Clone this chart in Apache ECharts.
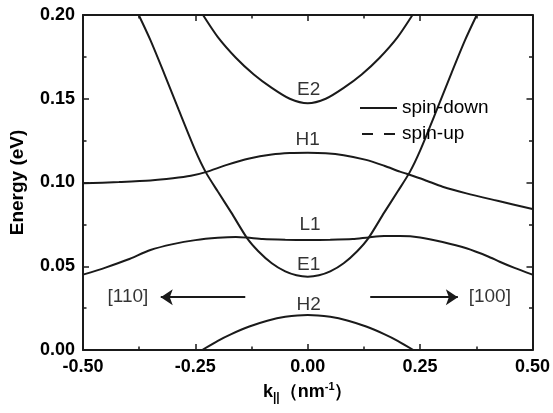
<!DOCTYPE html>
<html>
<head>
<meta charset="utf-8">
<script src="https://cdn.jsdelivr.net/npm/echarts@6/dist/echarts.min.js"></script>
<style>
  html, body { margin: 0; padding: 0; background: #fff; }
  #chart { width: 553px; height: 413px; }
</style>
</head>
<body>
<div id="chart"></div>
<script>
// Subband dispersion E(k||) along [110] (k < 0) and [100] (k > 0)

const xTickLabels = ['-0.50', '-0.25', '0.00', '0.25', '0.50'];
const yTickLabels = ['0.00', '0.05', '0.10', '0.15', '0.20'];

// E2 subband
const kE2 = [-0.233, -0.200, -0.160, -0.120, -0.080, -0.040, 0.000, 0.040, 0.080, 0.120, 0.160, 0.200, 0.233];
const eE2 = [0.2000, 0.1868, 0.1745, 0.1645, 0.1565, 0.1500, 0.1473, 0.1500, 0.1565, 0.1645, 0.1745, 0.1868, 0.2000];

// E1 subband
const kE1 = [-0.376, -0.350, -0.320, -0.287, -0.250, -0.227, -0.200, -0.170, -0.135, -0.110, -0.080, -0.050, -0.025, 0.000,
             0.025, 0.050, 0.080, 0.110, 0.135, 0.170, 0.200, 0.227, 0.250, 0.287, 0.320, 0.350, 0.376];
const eE1 = [0.2000, 0.1850, 0.1655, 0.1433, 0.1190, 0.1062, 0.0946, 0.0820, 0.0668, 0.0590, 0.0518, 0.0469, 0.0446, 0.0438,
             0.0446, 0.0469, 0.0518, 0.0590, 0.0668, 0.0820, 0.0946, 0.1062, 0.1190, 0.1433, 0.1655, 0.1850, 0.2000];

// H1 subband
const kH1 = [-0.50, -0.42, -0.35, -0.30, -0.26, -0.227, -0.18, -0.13, -0.08, -0.04, 0.00, 0.04, 0.08, 0.13, 0.17, 0.205, 0.22, 0.26, 0.30, 0.353, 0.42, 0.50];
const eH1 = [0.0995, 0.1003, 0.1012, 0.1025, 0.1040, 0.1062, 0.1105, 0.1143, 0.1167, 0.1176, 0.1178, 0.1175, 0.1163, 0.1135, 0.1100, 0.1065, 0.1052, 0.1015, 0.0975, 0.0935, 0.0892, 0.0842];

// L1 subband
const kL1 = [-0.50, -0.45, -0.40, -0.35, -0.30, -0.25, -0.20, -0.16, -0.135, -0.10, -0.05, 0.00, 0.05, 0.10, 0.135, 0.17, 0.205, 0.25, 0.30, 0.353, 0.40, 0.427, 0.46, 0.50];
const eL1 = [0.0450, 0.0492, 0.0540, 0.0597, 0.0632, 0.0656, 0.0670, 0.0675, 0.0671, 0.0662, 0.0658, 0.0657, 0.0658, 0.0662, 0.0672, 0.0680, 0.0680, 0.0672, 0.0645, 0.0607, 0.0560, 0.0527, 0.0490, 0.0450];

// H2 subband
const kH2 = [-0.235, -0.200, -0.170, -0.130, -0.090, -0.050, 0.000, 0.050, 0.090, 0.130, 0.170, 0.200, 0.235];
const eH2 = [0.0000, 0.0055, 0.0095, 0.0140, 0.0175, 0.0198, 0.0209, 0.0198, 0.0175, 0.0140, 0.0095, 0.0055, 0.0000];

// Band names and direction labels
const labelText = ['E2', 'H1', 'L1', 'E1', 'H2', '[110]', '[100]'];
const labelK    = [0.002, 0.000, 0.005, 0.002, 0.002, -0.400, 0.405];
const labelE    = [0.1556, 0.1254, 0.0746, 0.0507, 0.0269, 0.0316, 0.0318];

// Direction arrows: [k start, k end, energy]
const arrowFrom = [-0.139, 0.139];
const arrowTo   = [-0.327, 0.334];
const arrowE    = [0.0315, 0.0315];

const INK = '#1a1a1a';
const TXT = '#000';
const FONT = 'Liberation Sans, Arial, sans-serif';

const zip = (ks, es) => ks.map((k, i) => [k, es[i]]);

function bandSeries(ks, es) {
  return {
    name: 'spin-down',
    type: 'line',
    data: zip(ks, es),
    showSymbol: false,
    symbol: 'none',
    smooth: 0.25,
    lineStyle: { color: INK, width: 2 },
    itemStyle: { color: INK },
    z: 3,
    silent: true
  };
}

const chart = echarts.init(document.getElementById('chart'), null, { renderer: 'canvas' });

const axisCommon = {
  axisLine: { show: true, onZero: false, lineStyle: { color: INK, width: 2 } },
  axisTick: { show: true, inside: true, length: 6, lineStyle: { color: INK, width: 1.5 } },
  minorTick: { show: true, splitNumber: 2, length: 3.5, lineStyle: { color: INK, width: 1.5 } },
  splitLine: { show: false },
  minorSplitLine: { show: false }
};

const option = {
  backgroundColor: '#fff',
  animation: false,
  grid: { left: 82, right: 20, top: 15, bottom: 63 },
  legend: {
    orient: 'vertical',
    left: 355,
    top: 93,
    itemWidth: 37,
    itemHeight: 2,
    itemGap: 6,
    textStyle: { fontFamily: FONT, fontSize: 19, color: TXT, lineHeight: 20 },
    data: [
      { name: 'spin-down', icon: 'rect', itemStyle: { color: INK } },
      { name: 'spin-up', icon: 'path://M0,0H11V2H0Z M22,0H33V2H22Z', itemStyle: { color: INK } }
    ]
  },
  xAxis: [
    Object.assign({}, axisCommon, {
      type: 'value', min: -0.5, max: 0.5, interval: 0.25, position: 'bottom',
      name: '{k|k}{sub|||}{p|（nm}{sup|-1}{p|）}',
      nameLocation: 'middle',
      nameGap: 30,
      nameTextStyle: {
        rich: {
          k:   { fontFamily: FONT, fontWeight: 'bold', fontSize: 18, color: TXT },
          sub: { fontFamily: FONT, fontWeight: 'bold', fontSize: 12, color: TXT, padding: [12, 0, 0, 0] },
          p:   { fontFamily: FONT, fontWeight: 'bold', fontSize: 18, color: TXT },
          sup: { fontFamily: FONT, fontWeight: 'bold', fontSize: 11, color: TXT, padding: [0, 0, 10, 0] }
        }
      },
      axisLabel: {
        margin: 8, fontFamily: FONT, fontWeight: 'bold', fontSize: 18, color: TXT,
        formatter: v => xTickLabels[Math.round((v + 0.5) / 0.25)]
      }
    }),
    Object.assign({}, axisCommon, {
      type: 'value', min: -0.5, max: 0.5, interval: 0.25, position: 'top',
      axisLabel: { show: false }
    })
  ],
  yAxis: [
    Object.assign({}, axisCommon, {
      type: 'value', min: 0, max: 0.2, interval: 0.05, position: 'left',
      name: 'Energy (eV)',
      nameLocation: 'middle',
      nameGap: 56,
      nameTextStyle: { fontFamily: FONT, fontWeight: 'bold', fontSize: 19, color: TXT },
      axisLabel: {
        margin: 8, fontFamily: FONT, fontWeight: 'bold', fontSize: 18, color: TXT,
        formatter: v => yTickLabels[Math.round(v / 0.05)]
      }
    }),
    Object.assign({}, axisCommon, {
      type: 'value', min: 0, max: 0.2, interval: 0.05, position: 'right',
      axisLabel: { show: false }
    })
  ],
  series: [
    bandSeries(kE2, eE2),
    bandSeries(kE1, eE1),
    bandSeries(kH1, eH1),
    bandSeries(kL1, eL1),
    bandSeries(kH2, eH2),
    {
      name: 'spin-up',
      type: 'line',
      data: [],
      symbol: 'none',
      lineStyle: { color: INK, width: 2, type: [11, 11] },
      itemStyle: { color: INK }
    },
    {
      type: 'scatter',
      data: labelText.map((t, i) => ({ name: t, value: [labelK[i], labelE[i]] })),
      symbolSize: 0,
      silent: true,
      label: {
        show: true, position: 'inside', formatter: p => p.name,
        fontFamily: FONT, fontSize: 19, color: TXT
      },
      z: 5
    },
    {
      type: 'lines',
      coordinateSystem: 'cartesian2d',
      silent: true,
      symbol: ['none', 'arrow'],
      symbolSize: [0, 12],
      lineStyle: { color: INK, width: 2, opacity: 1 },
      data: arrowFrom.map((k, i) => ({ coords: [[k, arrowE[i]], [arrowTo[i], arrowE[i]]] }))
    }
  ]
};

chart.setOption(option);
</script>
</body>
</html>
